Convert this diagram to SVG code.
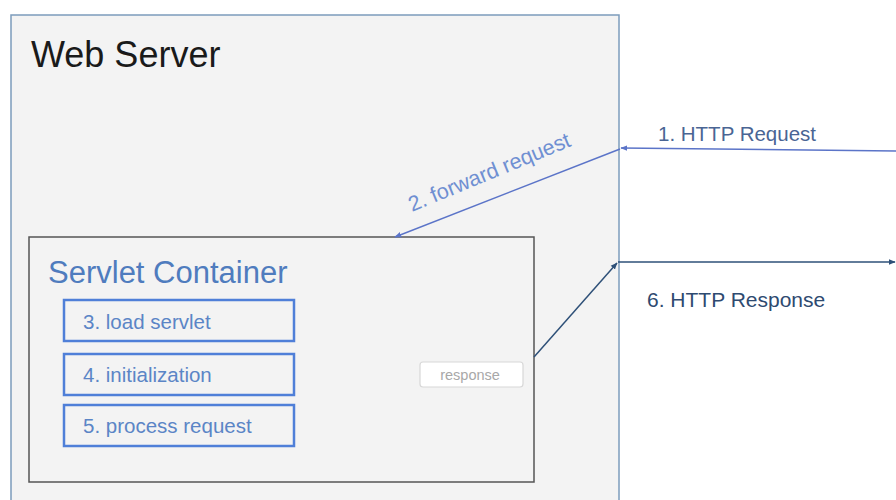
<svg xmlns="http://www.w3.org/2000/svg" width="896" height="500" viewBox="0 0 896 500">
<style>
.t{font-family:"Liberation Sans",Arial,sans-serif}
.step rect{fill:#f3f3f3;stroke:#4f7fd8;stroke-width:2.5}
.step text{font-size:20.5px;fill:#5b85c6}
</style>
<defs>
<marker id="ab" viewBox="0 0 10 10" refX="9" refY="5" markerWidth="7" markerHeight="7" orient="auto" markerUnits="userSpaceOnUse"><path d="M0,1 L10,5 L0,9 Z" fill="#5b74c8"/></marker>
<marker id="ad" viewBox="0 0 10 10" refX="9" refY="5" markerWidth="7" markerHeight="7" orient="auto" markerUnits="userSpaceOnUse"><path d="M0,1 L10,5 L0,9 Z" fill="#2e5078"/></marker>
</defs>
<rect width="896" height="500" fill="#ffffff"/>
<g id="web-server">
<rect x="11" y="15" width="608" height="500" fill="#f3f3f3" stroke="#7c9cbc" stroke-width="1.5"/>
<text class="t" x="31" y="67" font-size="36" fill="#1a1a1a">Web Server</text>
</g>
<g id="servlet-container">
<rect x="29" y="237" width="505" height="245" fill="#f3f3f3" stroke="#555555" stroke-width="1.5"/>
<text class="t" x="48" y="283" font-size="31" fill="#4f7cbe">Servlet Container</text>
</g>
<g id="load-servlet" class="step">
<rect x="64" y="300" width="230" height="41"/>
<text class="t" x="83" y="329">3. load servlet</text>
</g>
<g id="initialization" class="step">
<rect x="64" y="354" width="230" height="41"/>
<text class="t" x="83" y="382">4. initialization</text>
</g>
<g id="process-request" class="step">
<rect x="64" y="405" width="230" height="41"/>
<text class="t" x="83" y="433">5. process request</text>
</g>
<g id="response">
<rect x="420" y="362" width="103" height="25" rx="3" fill="#ffffff" stroke="#d8d8d8" stroke-width="1.2"/>
<text class="t" x="470" y="380" font-size="14.5" fill="#a8a8a8" text-anchor="middle">response</text>
</g>
<g id="connectors">
<line x1="896" y1="151" x2="621" y2="148" stroke="#5b74c8" stroke-width="1.5" marker-end="url(#ab)"/>
<line x1="620" y1="149" x2="395" y2="237" stroke="#5b74c8" stroke-width="1.5" marker-end="url(#ab)"/>
<polyline points="618,262 895,262" fill="none" stroke="#2e5078" stroke-width="1.5" marker-end="url(#ad)"/>
<line x1="534" y1="357" x2="617" y2="263" stroke="#2e5078" stroke-width="1.5" marker-end="url(#ad)"/>
<text class="t" x="658" y="141" font-size="20.5" fill="#4a6594">1. HTTP Request</text>
<text class="t" x="0" y="0" font-size="21.5" fill="#6f8fd2" transform="translate(412,212) rotate(-22.5)">2. forward request</text>
<text class="t" x="647" y="307" font-size="21" fill="#2e4a70">6. HTTP Response</text>
</g>
</svg>
